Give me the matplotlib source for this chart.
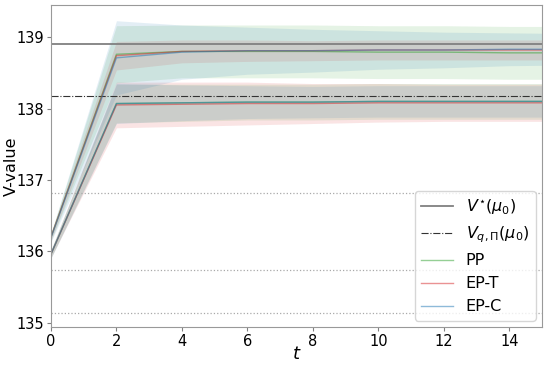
import numpy as np
import matplotlib
matplotlib.use("Agg")
import matplotlib.pyplot as plt

# time steps
t = np.array([0, 2, 4, 6, 8, 10, 12, 14, 16])

# reference values
v_star = 138.91
v_q_pi = 138.18
other_levels = [136.81, 135.74, 135.14]

# mean curves (upper / lower group) per method
pp_hi = [136.20, 138.76, 138.80, 138.80, 138.80, 138.79, 138.79, 138.78, 138.78]
ept_hi = [136.20, 138.74, 138.80, 138.81, 138.81, 138.82, 138.82, 138.82, 138.82]
epc_hi = [136.19, 138.71, 138.79, 138.81, 138.81, 138.82, 138.82, 138.83, 138.83]
pp_lo = [135.96, 138.07, 138.08, 138.09, 138.09, 138.10, 138.10, 138.10, 138.10]
ept_lo = [135.96, 138.05, 138.06, 138.07, 138.07, 138.08, 138.08, 138.08, 138.08]
epc_lo = [135.96, 138.07, 138.08, 138.09, 138.09, 138.10, 138.10, 138.10, 138.10]

# spread (std) per method
pp_hi_sd = [0.05, 0.40, 0.37, 0.37, 0.37, 0.37, 0.37, 0.37, 0.37]
ept_hi_sd = [0.05, 0.20, 0.16, 0.15, 0.14, 0.14, 0.14, 0.14, 0.14]
epc_hi_sd = [0.06, 0.52, 0.38, 0.33, 0.30, 0.27, 0.25, 0.23, 0.22]
pp_lo_sd = [0.05, 0.27, 0.26, 0.25, 0.25, 0.25, 0.25, 0.25, 0.25]
ept_lo_sd = [0.05, 0.32, 0.31, 0.30, 0.28, 0.27, 0.26, 0.26, 0.26]
epc_lo_sd = [0.06, 0.28, 0.25, 0.23, 0.22, 0.22, 0.22, 0.22, 0.22]

methods = [
    ("PP", "tab:green", pp_hi, pp_hi_sd, pp_lo, pp_lo_sd),
    ("EP-T", "tab:red", ept_hi, ept_hi_sd, ept_lo, ept_lo_sd),
    ("EP-C", "tab:blue", epc_hi, epc_hi_sd, epc_lo, epc_lo_sd),
]

fig = plt.figure(figsize=(5.48, 3.66), dpi=100)
ax = fig.add_axes([0.093, 0.1066, 0.896, 0.8797])

ax.axhline(v_star, color="gray", lw=1.3, label=r"$V^{\star}(\mu_0)$")
ax.axhline(v_q_pi, color="#333333", lw=0.8, ls="-.", label=r"$V_{q,\Pi}(\mu_0)$")
for lv in other_levels:
    ax.axhline(lv, color="darkgray", lw=0.9, ls=":")

for name, col, hi, hi_sd, lo, lo_sd in methods:
    hi = np.array(hi)
    lo = np.array(lo)
    hi_sd = np.array(hi_sd)
    lo_sd = np.array(lo_sd)
    ax.plot(t, hi, color=col, lw=1, alpha=0.5, label=name)
    ax.plot(t, lo, color=col, lw=1, alpha=0.5)
    ax.fill_between(t, hi - hi_sd, hi + hi_sd, color=col, alpha=0.12, lw=0)
    ax.fill_between(t, lo - lo_sd, lo + lo_sd, color=col, alpha=0.12, lw=0)

ax.set_xlim(0, 15)
ax.set_ylim(134.94, 139.45)
ax.set_xticks([0, 2, 4, 6, 8, 10, 12, 14])
ax.set_yticks([135, 136, 137, 138, 139])
ax.tick_params(labelsize=10.5, color="gray", length=3, pad=2)
for s in ax.spines.values():
    s.set_color("#999999")

ax.set_xlabel(r"$t$", fontsize=13)
ax.set_ylabel("V-value", fontsize=11.5)
ax.xaxis.set_label_coords(0.5, -0.055)
ax.yaxis.set_label_coords(-0.066, 0.5)
ax.legend(loc="lower right", fontsize=11.5, framealpha=0.8, borderaxespad=0.4)

fig.savefig("out.png", dpi=100)
